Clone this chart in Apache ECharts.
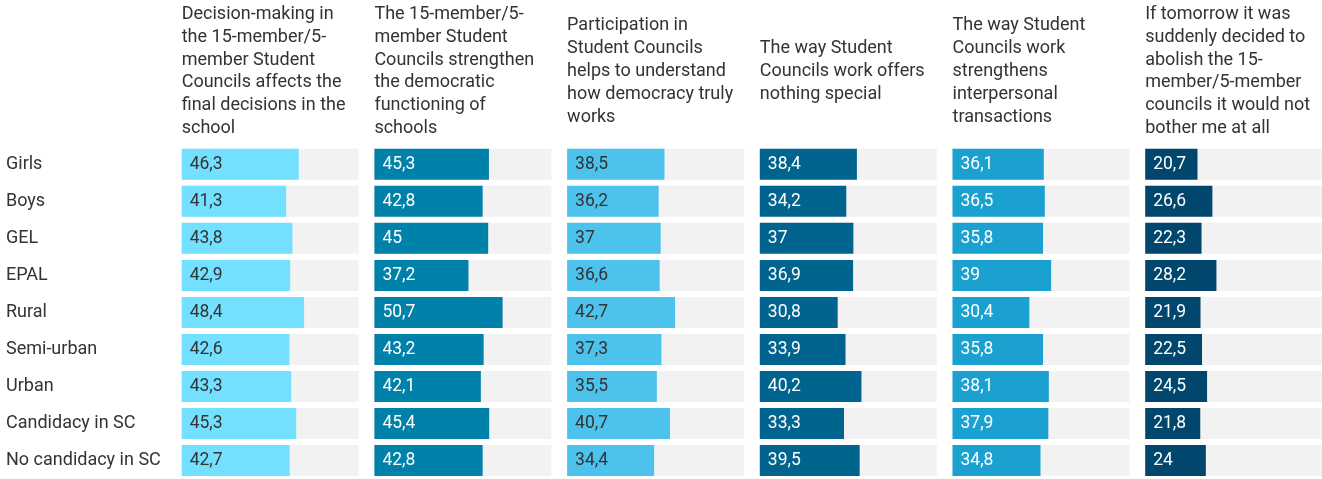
<!DOCTYPE html>
<html>
<head>
<meta charset="utf-8">
<script src="https://cdn.jsdelivr.net/npm/echarts@6/dist/echarts.min.js"></script>
<style>
  html, body { margin: 0; padding: 0; background: #fff; }
  #chart { width: 1322px; height: 479px; }
</style>
</head>
<body>
<div id="chart"></div>
<script>
// Row groups (shared by every panel)
const categories = ['Girls', 'Boys', 'GEL', 'EPAL', 'Rural', 'Semi-urban', 'Urban', 'Candidacy in SC', 'No candidacy in SC'];

// Panel headings
const headings = [
  'Decision-making in\nthe 15-member/5-\nmember Student\nCouncils affects the\nfinal decisions in the\nschool',
  'The 15-member/5-\nmember Student\nCouncils strengthen\nthe democratic\nfunctioning of\nschools',
  'Participation in\nStudent Councils\nhelps to understand\nhow democracy truly\nworks',
  'The way Student\nCouncils work offers\nnothing special',
  'The way Student\nCouncils work\nstrengthens\ninterpersonal\ntransactions',
  'If tomorrow it was\nsuddenly decided to\nabolish the 15-\nmember/5-member\ncouncils it would not\nbother me at all'
];

// Percentages per statement
const affectsDecisions    = [46.3, 41.3, 43.8, 42.9, 48.4, 42.6, 43.3, 45.3, 42.7];
const strengthenDemocracy = [45.3, 42.8, 45, 37.2, 50.7, 43.2, 42.1, 45.4, 42.8];
const understandDemocracy = [38.5, 36.2, 37, 36.6, 42.7, 37.3, 35.5, 40.7, 34.4];
const nothingSpecial      = [38.4, 34.2, 37, 36.9, 30.8, 33.9, 40.2, 33.3, 39.5];
const interpersonal       = [36.1, 36.5, 35.8, 39, 30.4, 35.8, 38.1, 37.9, 34.8];
const wouldNotBother      = [20.7, 26.6, 22.3, 28.2, 21.9, 22.5, 24.5, 21.8, 24];

const panelValues = [affectsDecisions, strengthenDemocracy, understandDemocracy, nothingSpecial, interpersonal, wouldNotBother];
const barColors   = ['#74E0FF', '#0081A9', '#4DC2EC', '#00648F', '#1AA1D0', '#00466D'];
const labelColors = ['#333333', '#ffffff', '#333333', '#ffffff', '#ffffff', '#ffffff'];

const FONT = 'Roboto, "Noto Sans", sans-serif';
const panelLeft0 = 181.7;
const panelStep = 192.7;
const panelWidth = 177;
const gridTop = 145.8;
const gridHeight = 336.2;

const chart = echarts.init(document.getElementById('chart'), null, { renderer: 'canvas' });

const grids = [], xAxes = [], yAxes = [], series = [], graphics = [];

panelValues.forEach((vals, i) => {
  const left = panelLeft0 + i * panelStep;
  grids.push({ left: left, top: gridTop, width: panelWidth, height: gridHeight, containLabel: false });
  xAxes.push({
    type: 'value', gridIndex: i, min: 0, max: 70,
    show: false, splitLine: { show: false }
  });
  yAxes.push({
    type: 'category', gridIndex: i, data: categories, inverse: true,
    axisLine: { show: false }, axisTick: { show: false }, splitLine: { show: false },
    axisLabel: i === 0 ? {
      show: true, align: 'left', margin: left - 6,
      color: '#333333', fontFamily: FONT, fontSize: 18
    } : { show: false }
  });
  series.push({
    type: 'bar', xAxisIndex: i, yAxisIndex: i,
    data: vals, barWidth: 31,
    showBackground: true,
    backgroundStyle: { color: '#F2F2F2' },
    itemStyle: { color: barColors[i] },
    label: {
      show: true, position: 'insideLeft', distance: 8,
      color: labelColors[i], fontFamily: FONT, fontSize: 17.5,
      formatter: p => String(p.value).replace('.', ',')
    },
    silent: true, animation: false
  });
  // heading block, centred vertically on the heading band
  graphics.push({
    type: 'text',
    x: left, y: 71.5,
    style: {
      text: headings[i], fill: '#333333',
      font: '18px ' + FONT, lineHeight: 22.8,
      verticalAlign: 'middle', align: 'left'
    }
  });
});

chart.setOption({
  animation: false,
  grid: grids,
  xAxis: xAxes,
  yAxis: yAxes,
  series: series,
  graphic: graphics
});
</script>
</body>
</html>
